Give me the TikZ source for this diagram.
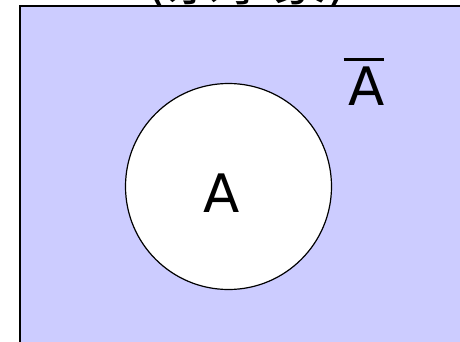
\documentclass[tikz,border=0pt]{standalone}
\usepackage{fontspec}
\setmainfont{DejaVu Sans}
\newfontfamily\cjk{Noto Sans CJK JP}
\definecolor{setblue}{HTML}{CCCCFF}
\tikzset{
  biglabel/.style={inner sep=0pt, font=\fontsize{53}{60}\selectfont, anchor=base},
}
\begin{document}
\begin{tikzpicture}[x=1pt,y=-1pt]
\useasboundingbox (0,0) rectangle (460,342);
\clip (0,0) rectangle (460,342);
\fill[white] (0,0) rectangle (460,342);
\draw[line width=1.5pt, fill=setblue] (20,6) rectangle (475,360);
\node[draw, circle, fill=white, line width=1.2pt, minimum size=206pt, inner sep=0pt] (circ) at (228.5,186.5) {};
\node[biglabel] (a) at (222,212) {A};
\node[biglabel] (abar) at (367,106) {A};
\draw[line width=3pt] ([xshift=-5pt,yshift=8pt]abar.north west) -- ([xshift=-1pt,yshift=8pt]abar.north east);
\node[biglabel] (title) at (247,1) {(\cjk 余事象\normalfont)};
\end{tikzpicture}
\end{document}
